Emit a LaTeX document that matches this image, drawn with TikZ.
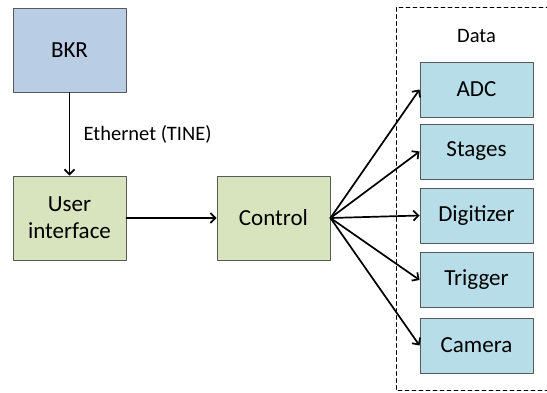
\documentclass[tikz,border=0pt]{standalone}
\usepackage{fontspec}
\setmainfont{Carlito}
\usetikzlibrary{arrows.meta}
\definecolor{bkrblue}{HTML}{B9CDE5}
\definecolor{uigreen}{HTML}{D7E4BD}
\definecolor{datacyan}{HTML}{B7DEE8}
\begin{document}
\begin{tikzpicture}[line cap=round, line join=round, >={Straight Barb[length=5pt,width=10pt]}, x=1pt, y=-1pt]
	\tikzset{box/.style={draw=black!65, line width=0.9pt, align=center, font=\fontsize{23}{27}\selectfont},
		bigbox/.style={box, minimum width=113pt, minimum height=84pt},
		databox/.style={box, fill=datacyan, minimum width=113pt, minimum height=55pt},
		conn/.style={->, line width=1.7pt},
		label style/.style={font=\fontsize{20.5}{24}\selectfont}}
	\useasboundingbox (0,0) rectangle (547,392);
	% left column and control
	\node[bigbox, fill=bkrblue] (bkr) at (69.5,50.5) {BKR};
	\node[bigbox, fill=uigreen] (ui) at (69.5,218) {User\\interface};
	\node[bigbox, fill=uigreen] (ctrl) at (273.5,218) {Control};
	% data group
	\draw[dashed, line width=0.8pt, dash pattern=on 4pt off 3pt] (550,7.5) -| (396,390.5) -- (550,390.5);
	\node[label style] (data) at (476.5,36) {Data};
	\foreach \name/\txt/\y in {adc/ADC/89.5, stages/Stages/151.5, digitizer/Digitizer/215.5, trigger/Trigger/280, camera/Camera/345.5}
		\node[databox] (\name) at (476.5,\y) {\txt};
	% connections
	\draw[conn] (bkr) -- node[right=10pt, label style] {Ethernet (TINE)} (ui);
	\draw[conn] (ui) -- (ctrl);
	\foreach \name in {adc, stages, digitizer, trigger, camera}
		\draw[conn] (ctrl.east) -- (\name.west);
\end{tikzpicture}
\end{document}
